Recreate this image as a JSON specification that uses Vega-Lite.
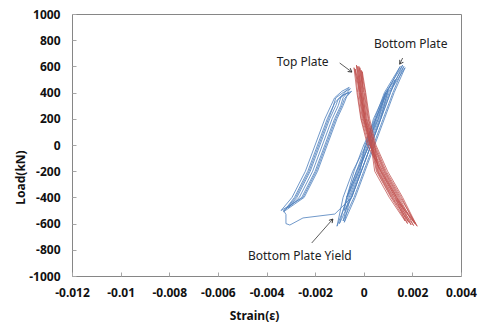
{
  "$schema": "https://vega.github.io/schema/vega-lite/v6.json",
  "width": 389,
  "height": 262,
  "autosize": {"type": "none"},
  "padding": {"left": 72, "top": 14, "right": 19, "bottom": 48},
  "background": "white",
  "config": {
    "view": {"stroke": "#868686", "strokeWidth": 1},
    "axis": {
      "grid": false,
      "domain": false,
      "tickColor": "#a6a6a6",
      "labelOverlap": false,
      "labelFlush": false,
      "labelFont": "Noto Sans",
      "labelFontWeight": "bold",
      "labelFontSize": 12,
      "labelColor": "#111111",
      "titleFont": "Noto Sans",
      "titleFontWeight": "bold",
      "titleFontSize": 12,
      "titleColor": "#111111"
    }
  },
  "datasets": {
    "bottom": [
      {"i":1,"x":0.0001,"y":0},{"i":2,"x":0.0004,"y":200},{"i":3,"x":0.0009,"y":400},{"i":4,"x":0.0006,"y":200},{"i":5,"x":0.0002,"y":0},{"i":6,"x":-0.0002,"y":-200},{"i":7,"x":-0.0007,"y":-400},{"i":8,"x":-0.0004,"y":-200},{"i":9,"x":0.0,"y":0},
      {"i":10,"x":0.0005,"y":200},{"i":11,"x":0.0009,"y":400},{"i":12,"x":0.0013,"y":500},{"i":13,"x":0.0011,"y":400},{"i":14,"x":0.0007,"y":200},{"i":15,"x":0.0003,"y":0},{"i":16,"x":-0.0001,"y":-200},{"i":17,"x":-0.0005,"y":-400},{"i":18,"x":-0.0008,"y":-500},{"i":19,"x":-0.0007,"y":-400},{"i":20,"x":-0.0003,"y":-200},{"i":21,"x":0.0001,"y":0},
      {"i":22,"x":0.0006,"y":200},{"i":23,"x":0.001,"y":400},{"i":24,"x":0.00165,"y":600},{"i":25,"x":0.0012,"y":400},{"i":26,"x":0.0008,"y":200},{"i":27,"x":0.0004,"y":0},{"i":28,"x":0.0,"y":-200},{"i":29,"x":-0.0004,"y":-400},{"i":30,"x":-0.00085,"y":-580},{"i":31,"x":-0.0006,"y":-400},{"i":32,"x":-0.0002,"y":-200},{"i":33,"x":0.0002,"y":0},
      {"i":34,"x":0.0005,"y":200},{"i":35,"x":0.0009,"y":400},{"i":36,"x":0.0016,"y":610},{"i":37,"x":0.0011,"y":400},{"i":38,"x":0.0007,"y":200},{"i":39,"x":0.0003,"y":0},{"i":40,"x":-0.0001,"y":-200},{"i":41,"x":-0.0005,"y":-400},{"i":42,"x":-0.001,"y":-600},{"i":43,"x":-0.0007,"y":-400},{"i":44,"x":-0.0003,"y":-200},{"i":45,"x":0.00025,"y":0},
      {"i":46,"x":0.00065,"y":200},{"i":47,"x":0.00105,"y":400},{"i":48,"x":0.0017,"y":590},{"i":49,"x":0.00125,"y":400},{"i":50,"x":0.00085,"y":200},{"i":51,"x":0.00045,"y":0},{"i":52,"x":0.00005,"y":-200},{"i":53,"x":-0.00035,"y":-400},{"i":54,"x":-0.0008,"y":-590},{"i":55,"x":-0.00055,"y":-400},{"i":56,"x":-0.00015,"y":-200},{"i":57,"x":0.00005,"y":0},
      {"i":58,"x":0.00045,"y":200},{"i":59,"x":0.00085,"y":400},{"i":60,"x":0.0015,"y":600},{"i":61,"x":0.00095,"y":400},{"i":62,"x":0.00055,"y":200},{"i":63,"x":0.00015,"y":0},{"i":64,"x":-0.00025,"y":-200},{"i":65,"x":-0.00065,"y":-400},{"i":66,"x":-0.0011,"y":-620},{"i":67,"x":-0.00085,"y":-400},{"i":68,"x":-0.00045,"y":-200},{"i":69,"x":0.0001,"y":0},
      {"i":70,"x":0.0005,"y":200},{"i":71,"x":0.001,"y":420},{"i":72,"x":0.0007,"y":200},{"i":73,"x":0.0003,"y":0},{"i":74,"x":-0.0001,"y":-200},{"i":75,"x":-0.0005,"y":-400},{"i":76,"x":-0.00119,"y":-527},{"i":77,"x":-0.0025,"y":-557},{"i":78,"x":-0.00304,"y":-611},{"i":79,"x":-0.0032,"y":-600},{"i":80,"x":-0.0032,"y":-530},{"i":81,"x":-0.0033,"y":-500},
      {"i":82,"x":-0.00255,"y":-400},{"i":83,"x":-0.002,"y":-200},{"i":84,"x":-0.0016,"y":0},{"i":85,"x":-0.0012,"y":200},{"i":86,"x":-0.00095,"y":300},{"i":87,"x":-0.00085,"y":360},{"i":88,"x":-0.0006,"y":420},{"i":89,"x":-0.00055,"y":430},
      {"i":90,"x":-0.00085,"y":400},{"i":91,"x":-0.00115,"y":360},{"i":92,"x":-0.00125,"y":300},{"i":93,"x":-0.0015,"y":200},{"i":94,"x":-0.0019,"y":0},{"i":95,"x":-0.0023,"y":-200},{"i":96,"x":-0.00285,"y":-400},{"i":97,"x":-0.0033,"y":-510},
      {"i":98,"x":-0.00245,"y":-400},{"i":99,"x":-0.0019,"y":-200},{"i":100,"x":-0.0015,"y":0},{"i":101,"x":-0.0011,"y":200},{"i":102,"x":-0.00085,"y":300},{"i":103,"x":-0.0007,"y":370},{"i":104,"x":-0.0005,"y":410},
      {"i":105,"x":-0.00075,"y":390},{"i":106,"x":-0.00105,"y":350},{"i":107,"x":-0.00115,"y":300},{"i":108,"x":-0.0014,"y":200},{"i":109,"x":-0.0018,"y":0},{"i":110,"x":-0.0022,"y":-200},{"i":111,"x":-0.00275,"y":-400},{"i":112,"x":-0.0031,"y":-480},
      {"i":113,"x":-0.00265,"y":-400},{"i":114,"x":-0.0021,"y":-200},{"i":115,"x":-0.0017,"y":0},{"i":116,"x":-0.0013,"y":200},{"i":117,"x":-0.00105,"y":300},{"i":118,"x":-0.00095,"y":360},{"i":119,"x":-0.0007,"y":420},{"i":120,"x":-0.0006,"y":440},
      {"i":121,"x":-0.0009,"y":410},{"i":122,"x":-0.0012,"y":360},{"i":123,"x":-0.00135,"y":300},{"i":124,"x":-0.0016,"y":200},{"i":125,"x":-0.002,"y":0},{"i":126,"x":-0.0024,"y":-200},{"i":127,"x":-0.00295,"y":-400},{"i":128,"x":-0.0034,"y":-500},
      {"i":129,"x":-0.0025,"y":-400},{"i":130,"x":-0.00195,"y":-200},{"i":131,"x":-0.00155,"y":0},{"i":132,"x":-0.00115,"y":200},{"i":133,"x":-0.0009,"y":300},{"i":134,"x":-0.0008,"y":350},{"i":135,"x":-0.0006,"y":400},
      {"i":136,"x":-0.0009,"y":380},{"i":137,"x":-0.0012,"y":320},{"i":138,"x":-0.00145,"y":200},{"i":139,"x":-0.00185,"y":0},{"i":140,"x":-0.00225,"y":-200},{"i":141,"x":-0.0028,"y":-400},{"i":142,"x":-0.0032,"y":-490}
    ],
    "top": [
      {"i":1,"x":0.0002,"y":0},{"i":2,"x":-0.0001,"y":200},{"i":3,"x":-0.00025,"y":400},{"i":4,"x":-0.00035,"y":580},{"i":5,"x":-0.00012,"y":400},{"i":6,"x":0.00003,"y":200},{"i":7,"x":0.00028,"y":0},{"i":8,"x":0.00075,"y":-200},{"i":9,"x":0.00135,"y":-400},{"i":10,"x":0.0018,"y":-600},{"i":11,"x":0.00112,"y":-400},{"i":12,"x":0.00052,"y":-200},{"i":13,"x":0.0003,"y":0},
      {"i":14,"x":-0.00003,"y":200},{"i":15,"x":-0.00018,"y":400},{"i":16,"x":-0.00025,"y":600},{"i":17,"x":-0.00005,"y":400},{"i":18,"x":0.0001,"y":200},{"i":19,"x":0.00036,"y":0},{"i":20,"x":0.00082,"y":-200},{"i":21,"x":0.00142,"y":-400},{"i":22,"x":0.00195,"y":-610},{"i":23,"x":0.00118,"y":-400},{"i":24,"x":0.00058,"y":-200},{"i":25,"x":0.00035,"y":0},
      {"i":26,"x":0.00004,"y":200},{"i":27,"x":-0.00012,"y":400},{"i":28,"x":-0.00016,"y":590},{"i":29,"x":0.00002,"y":400},{"i":30,"x":0.00018,"y":200},{"i":31,"x":0.00042,"y":0},{"i":32,"x":0.00088,"y":-200},{"i":33,"x":0.0015,"y":-400},{"i":34,"x":0.0022,"y":-620},{"i":35,"x":0.00125,"y":-400},{"i":36,"x":0.00064,"y":-200},{"i":37,"x":0.00038,"y":0},
      {"i":38,"x":0.00006,"y":200},{"i":39,"x":-0.00008,"y":400},{"i":40,"x":-0.0001,"y":570},{"i":41,"x":0.00006,"y":400},{"i":42,"x":0.0002,"y":200},{"i":43,"x":0.00046,"y":0},{"i":44,"x":0.00092,"y":-200},{"i":45,"x":0.00155,"y":-400},{"i":46,"x":0.0021,"y":-600},{"i":47,"x":0.0013,"y":-400},{"i":48,"x":0.00068,"y":-200},{"i":49,"x":0.00025,"y":0},
      {"i":50,"x":-0.00006,"y":200},{"i":51,"x":-0.0002,"y":400},{"i":52,"x":-0.0003,"y":610},{"i":53,"x":-0.0001,"y":400},{"i":54,"x":0.00006,"y":200},{"i":55,"x":0.0003,"y":0},{"i":56,"x":0.00078,"y":-200},{"i":57,"x":0.00138,"y":-400},{"i":58,"x":0.00185,"y":-590},{"i":59,"x":0.00115,"y":-400},{"i":60,"x":0.00055,"y":-200},{"i":61,"x":0.00033,"y":0},
      {"i":62,"x":0.0,"y":200},{"i":63,"x":-0.00015,"y":400},{"i":64,"x":-0.0002,"y":600},{"i":65,"x":0.0,"y":400},{"i":66,"x":0.00014,"y":200},{"i":67,"x":0.0004,"y":0},{"i":68,"x":0.00085,"y":-200},{"i":69,"x":0.00146,"y":-400},{"i":70,"x":0.00205,"y":-615},{"i":71,"x":0.00122,"y":-400},{"i":72,"x":0.0006,"y":-200},{"i":73,"x":0.00045,"y":0},
      {"i":74,"x":0.0001,"y":200},{"i":75,"x":-0.00004,"y":400},{"i":76,"x":-0.00006,"y":560},{"i":77,"x":0.00008,"y":400},{"i":78,"x":0.00024,"y":200},{"i":79,"x":0.0005,"y":0},{"i":80,"x":0.00098,"y":-200},{"i":81,"x":0.0016,"y":-400},{"i":82,"x":0.00215,"y":-605},{"i":83,"x":0.00135,"y":-400},{"i":84,"x":0.00072,"y":-200},{"i":85,"x":0.00015,"y":0},
      {"i":86,"x":-0.00012,"y":200},{"i":87,"x":-0.00028,"y":400},{"i":88,"x":-0.0004,"y":590},{"i":89,"x":-0.00015,"y":400},{"i":90,"x":0.0,"y":200},{"i":91,"x":0.00025,"y":0},{"i":92,"x":0.0007,"y":-200},{"i":93,"x":0.0013,"y":-400},{"i":94,"x":0.0017,"y":-580},{"i":95,"x":0.00105,"y":-400},{"i":96,"x":0.00045,"y":-200},{"i":97,"x":0.0003,"y":0}
    ],
    "notes": [
      {"label": "Top Plate", "x": -0.00251, "y": 634},
      {"label": "Bottom Plate", "x": 0.00193, "y": 771},
      {"label": "Bottom Plate Yield", "x": -0.00263, "y": -847}
    ],
    "arrows": [
      {"name": "top", "x": -0.00099, "y": 626, "x2": -0.00049, "y2": 557},
      {"name": "bottom", "x": 0.0016, "y": 664, "x2": 0.00148, "y2": 618},
      {"name": "yield", "x": -0.00214, "y": -748, "x2": -0.00127, "y2": -565}
    ]
  },
  "layer": [
    {
      "data": {"name": "bottom"},
      "mark": {"type": "line", "color": "#4F81BD", "strokeWidth": 0.9, "opacity": 0.9},
      "encoding": {
        "x": {
          "field": "x", "type": "quantitative",
          "scale": {"domain": [-0.012, 0.004], "nice": false, "zero": false},
          "axis": {
            "values": [-0.012, -0.01, -0.008, -0.006, -0.004, -0.002, 0, 0.002, 0.004],
            "labelExpr": "'' + datum.value",
            "labelOverlap": false,
            "labelFlush": false,
            "tickSize": -4,
            "labelPadding": 15,
            "title": "Strain(ε)",
            "titleX": 182, "titleY": 39, "titleBaseline": "middle", "titleAlign": "center"
          }
        },
        "y": {
          "field": "y", "type": "quantitative",
          "scale": {"domain": [-1000, 1000], "nice": false, "zero": false},
          "axis": {
            "tickCount": 10,
            "format": "d",
            "labelExpr": "replace(datum.label, '−', '-')",
            "labelOverlap": false,
            "labelFlush": false,
            "labelBound": false,
            "tickSize": -4,
            "labelPadding": 16,
            "title": "Load(kN)",
            "titleX": -52, "titleY": 163, "titleBaseline": "middle", "titleAlign": "center"
          }
        },
        "order": {"field": "i", "type": "quantitative"}
      }
    },
    {
      "data": {"name": "top"},
      "mark": {"type": "line", "color": "#C0504D", "strokeWidth": 0.9, "opacity": 0.85},
      "encoding": {
        "x": {"field": "x", "type": "quantitative"},
        "y": {"field": "y", "type": "quantitative"},
        "order": {"field": "i", "type": "quantitative"}
      }
    },
    {
      "mark": {"type": "rule", "color": "#333333", "strokeWidth": 1},
      "encoding": {"x": {"datum": 0}}
    },
    {
      "mark": {"type": "rule", "color": "#333333", "strokeWidth": 1},
      "encoding": {"y": {"datum": 0}}
    },
    {
      "data": {"name": "arrows"},
      "mark": {"type": "rule", "color": "#333333", "strokeWidth": 0.8},
      "encoding": {
        "x": {"field": "x", "type": "quantitative"},
        "y": {"field": "y", "type": "quantitative"},
        "x2": {"field": "x2"},
        "y2": {"field": "y2"}
      }
    },
    {
      "data": {"name": "arrows"},
      "transform": [{"filter": "datum.name == 'top'"}],
      "mark": {"type": "point", "shape": "M-0.7,1.2L0,0L0.7,1.2", "filled": false, "stroke": "#333333", "strokeWidth": 0.9, "size": 36, "angle": 127, "opacity": 1},
      "encoding": {"x": {"field": "x2", "type": "quantitative"}, "y": {"field": "y2", "type": "quantitative"}}
    },
    {
      "data": {"name": "arrows"},
      "transform": [{"filter": "datum.name == 'bottom'"}],
      "mark": {"type": "point", "shape": "M-0.7,1.2L0,0L0.7,1.2", "filled": false, "stroke": "#333333", "strokeWidth": 0.9, "size": 36, "angle": 211, "opacity": 1},
      "encoding": {"x": {"field": "x2", "type": "quantitative"}, "y": {"field": "y2", "type": "quantitative"}}
    },
    {
      "data": {"name": "arrows"},
      "transform": [{"filter": "datum.name == 'yield'"}],
      "mark": {"type": "point", "shape": "M-0.7,1.2L0,0L0.7,1.2", "filled": false, "stroke": "#333333", "strokeWidth": 0.9, "size": 36, "angle": 41, "opacity": 1},
      "encoding": {"x": {"field": "x2", "type": "quantitative"}, "y": {"field": "y2", "type": "quantitative"}}
    },
    {
      "data": {"name": "notes"},
      "mark": {"type": "text", "font": "Noto Sans", "fontSize": 12, "color": "#222222", "align": "center", "baseline": "middle"},
      "encoding": {
        "x": {"field": "x", "type": "quantitative"},
        "y": {"field": "y", "type": "quantitative"},
        "text": {"field": "label"}
      }
    }
  ]
}
